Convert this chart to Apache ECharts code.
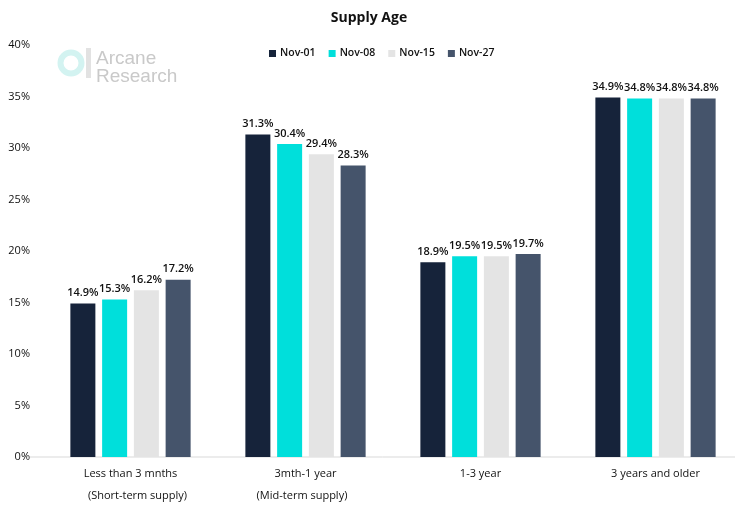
<!DOCTYPE html>
<html><head><meta charset="utf-8">
<script src="https://cdn.jsdelivr.net/npm/echarts@6/dist/echarts.min.js"></script>
<style>html,body{margin:0;padding:0;background:#fff}#c{width:738px;height:514px}</style>
</head><body><div id="c"></div>
<script>
const categories = ['Less than 3 mnths', '3mth-1 year', '1-3 year', '3 years and older'];
const subLabels = ['(Short-term supply)', '(Mid-term supply)', '', ''];
const seriesNames = ['Nov-01', 'Nov-08', 'Nov-15', 'Nov-27'];
const nov01 = [14.9, 31.3, 18.9, 34.9];
const nov08 = [15.3, 30.4, 19.5, 34.8];
const nov15 = [16.2, 29.4, 19.5, 34.8];
const nov27 = [17.2, 28.3, 19.7, 34.8];
const yTicks = [0, 5, 10, 15, 20, 25, 30, 35, 40];
const colors = ['#16233a', '#00dfdb', '#e4e4e4', '#45546b'];
const FONT = 'Open Sans';
const data = [nov01, nov08, nov15, nov27];
const chart = echarts.init(document.getElementById('c'));
chart.setOption({
  animation: false,
  textStyle: {fontFamily: FONT},
  title: {text: 'Supply Age', left: 'center', top: 6, textStyle: {fontFamily: FONT, fontSize: 14, fontWeight: 'bold', color: '#111'}},
  legend: {data: seriesNames, top: 43, left: 264, itemWidth: 7, itemHeight: 7, itemGap: 13, icon: 'rect',
    textStyle: {fontFamily: FONT, fontSize: 10.5, fontWeight: 600, color: '#111', padding: [0, 0, 0, -1]}},
  grid: {left: 43, right: -5, top: 45, bottom: 57, outerBoundsMode: 'none', containLabel: false},
  xAxis: {type: 'category', data: categories,
    axisLine: {show: false}, axisTick: {show: false},
    axisLabel: {fontFamily: FONT, fontSize: 11, color: '#111', margin: 6,
      formatter: (v, i) => {
        const s = subLabels[i];
        if (!s) return '{a|' + v + '}';
        return '{a|' + v + '}\n' + (i === 0 ? '{r|' + s + '}' : '{l|' + s + '}');
      },
      rich: {
        a: {fontFamily: FONT, fontSize: 11, color: '#111', lineHeight: 22},
        r: {fontFamily: FONT, fontSize: 11, color: '#111', lineHeight: 22, padding: [0, 0, 0, 14]},
        l: {fontFamily: FONT, fontSize: 11, color: '#111', lineHeight: 22, padding: [0, 7, 0, 0]}
      }}},
  yAxis: {type: 'value', min: 0, max: 40, interval: 5,
    axisLabel: {formatter: v => yTicks.includes(v) ? v + '%' : '', fontFamily: FONT, fontSize: 11, color: '#111', margin: 13, align: 'right'},
    splitLine: {show: false}, axisLine: {show: false}, axisTick: {show: false}},
  graphic: [
    {type: 'line', shape: {x1: 30, y1: 457, x2: 735, y2: 457}, style: {stroke: '#d9d9d9', lineWidth: 1}},
    {type: 'arc', shape: {cx: 71, cy: 63, r: 10.5, startAngle: 0, endAngle: Math.PI * 2}, style: {stroke: '#d3f3f1', lineWidth: 6, fill: null}},
    {type: 'rect', shape: {x: 86, y: 48, width: 5, height: 30}, style: {fill: '#e2e2e2'}},
    {type: 'text', left: 96, top: 49, style: {text: 'Arcane\nResearch', fill: '#c9c9c9', font: '19px "Liberation Sans"', lineHeight: 18}}
  ],
  series: seriesNames.map((n, i) => ({
    name: n, type: 'bar', data: data[i], barWidth: 25, barGap: '27%',
    itemStyle: {color: colors[i]},
    label: {show: true, position: 'top', formatter: p => p.value.toFixed(1) + '%', fontFamily: FONT, fontSize: 11, fontWeight: 600, color: '#111', distance: 5}
  }))
});
</script></body></html>
